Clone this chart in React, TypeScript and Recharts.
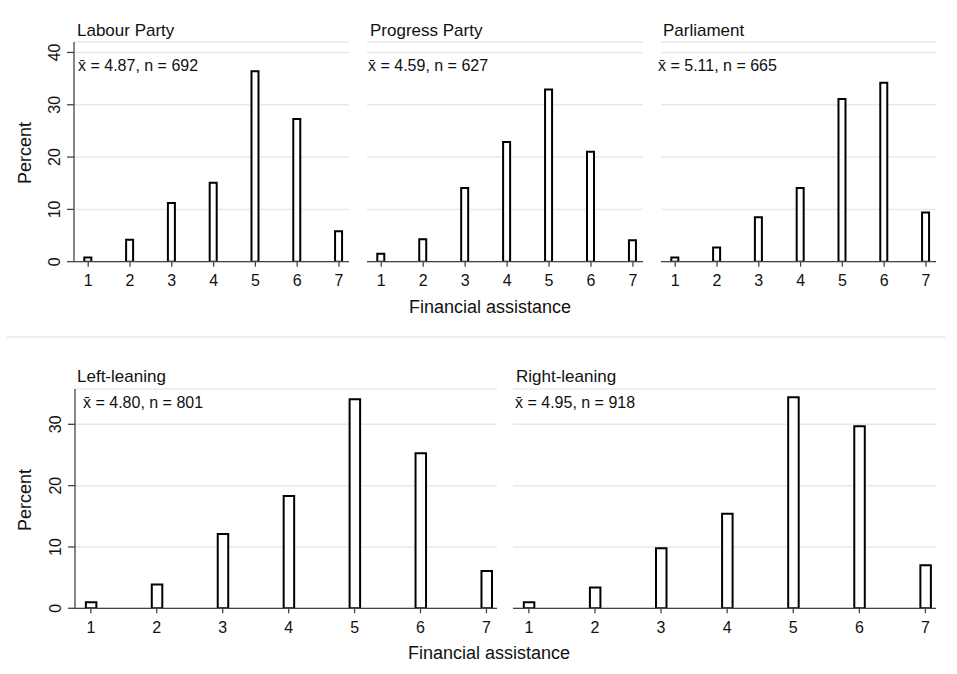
import React from 'react';
import { BarChart, Bar, XAxis, YAxis, CartesianGrid } from 'recharts';

const categories = [1, 2, 3, 4, 5, 6, 7];
const labourParty = [0.8, 4.2, 11.2, 15.1, 36.4, 27.3, 5.8];
const progressParty = [1.5, 4.3, 14.1, 22.9, 32.9, 21.0, 4.1];
const parliament = [0.8, 2.7, 8.5, 14.1, 31.1, 34.2, 9.4];
const leftLeaning = [1.0, 3.9, 12.1, 18.3, 34.1, 25.3, 6.1];
const rightLeaning = [1.0, 3.4, 9.8, 15.4, 34.4, 29.7, 7.0];

const panelTitles = ['Labour Party', 'Progress Party', 'Parliament', 'Left-leaning', 'Right-leaning'];
const panelMeans = ['4.87', '4.59', '5.11', '4.80', '4.95'];
const panelNs = [692, 627, 665, 801, 918];
const topYTicks = [0, 10, 20, 30, 40];
const bottomYTicks = [0, 10, 20, 30];
const xTitle = 'Financial assistance';
const yTitle = 'Percent';

const FONT = '"Liberation Sans", Arial, Helvetica, sans-serif';

type PanelProps = {
  values: number[];
  left: number;
  right: number;
  top: number;
  bottom: number;
  yMax: number;
  yTicks: number[];
  xDomain: [number, number];
  barSize: number;
  showY: boolean;
};

function RotTick(props: any) {
  const { x, y, payload } = props;
  const bx = x - 7;
  return (
    <text
      x={bx}
      y={y}
      transform={`rotate(-90 ${bx} ${y})`}
      textAnchor="middle"
      fontSize={16}
      fill="#111"
      fontFamily={FONT}
    >
      {payload.value}
    </text>
  );
}

function Panel({ values, left, right, top, bottom, yMax, yTicks, xDomain, barSize, showY }: PanelProps) {
  const padL = 80;
  const padR = 6;
  const padT = 6;
  const padB = 40;
  const width = right - left + padL + padR;
  const height = bottom - top + padT + padB;
  const data = categories.map((c, i) => ({ x: c, v: values[i] }));
  return (
    <div style={{ position: 'absolute', left: left - padL, top: top - padT, width, height }}>
      <BarChart
        width={width}
        height={height}
        data={data}
        margin={{ top: padT, right: padR, bottom: 0, left: showY ? 0 : padL }}
      >
        <CartesianGrid vertical={false} stroke="#e8e8e8" strokeWidth={1.5} />
        <XAxis
          type="number"
          dataKey="x"
          domain={xDomain}
          ticks={categories}
          allowDataOverflow
          height={padB}
          tickSize={5}
          tickMargin={8}
          stroke="#444"
          strokeWidth={1.3}
          tick={{ fill: '#111', fontSize: 16, fontFamily: FONT }}
          interval={0}
        />
        <YAxis
          type="number"
          domain={[0, yMax]}
          ticks={yTicks}
          allowDataOverflow
          hide={!showY}
          width={padL}
          tickSize={7}
          tickMargin={0}
          stroke="#444"
          strokeWidth={1.3}
          tick={<RotTick />}
          interval={0}
        />
        <Bar dataKey="v" barSize={barSize} fill="#fff" stroke="#000" strokeWidth={2} isAnimationActive={false} />
      </BarChart>
    </div>
  );
}

function Label({ text, x, cy, size }: { text: string; x: number; cy: number; size: number }) {
  return (
    <div
      style={{
        position: 'absolute',
        left: x,
        top: cy,
        transform: 'translateY(-50%)',
        fontSize: size,
        lineHeight: 1,
        whiteSpace: 'nowrap',
      }}
    >
      {text}
    </div>
  );
}

function CenterLabel({ text, cx, cy, size, rotate }: { text: string; cx: number; cy: number; size: number; rotate?: boolean }) {
  return (
    <div
      style={{
        position: 'absolute',
        left: cx,
        top: cy,
        transform: `translate(-50%, -50%)${rotate ? ' rotate(-90deg)' : ''}`,
        fontSize: size,
        lineHeight: 1,
        whiteSpace: 'nowrap',
      }}
    >
      {text}
    </div>
  );
}

const annot = (i: number) => `x\u0304 = ${panelMeans[i]}, n = ${panelNs[i]}`;

export default function App() {
  const topDomain: [number, number] = [0.66, 7.24];
  const botDomain: [number, number] = [0.76, 7.16];
  return (
    <div
      style={{
        position: 'absolute',
        left: 0,
        top: 0,
        width: 957,
        height: 674,
        background: '#fff',
        fontFamily: FONT,
        color: '#111',
        overflow: 'hidden',
      }}
    >
      <Panel values={labourParty} left={74} right={349} top={42} bottom={261.7} yMax={42} yTicks={topYTicks} xDomain={topDomain} barSize={7} showY />
      <Panel values={progressParty} left={367} right={643} top={42} bottom={261.7} yMax={42} yTicks={topYTicks} xDomain={topDomain} barSize={7} showY={false} />
      <Panel values={parliament} left={661} right={936} top={42} bottom={261.7} yMax={42} yTicks={topYTicks} xDomain={topDomain} barSize={7} showY={false} />
      <Panel values={leftLeaning} left={75} right={497} top={389} bottom={608.3} yMax={35.76} yTicks={bottomYTicks} xDomain={botDomain} barSize={10.5} showY />
      <Panel values={rightLeaning} left={513} right={936} top={389} bottom={608.3} yMax={35.76} yTicks={bottomYTicks} xDomain={botDomain} barSize={10.5} showY={false} />

      <div style={{ position: 'absolute', left: 7, top: 336, width: 938, height: 2, background: '#ececec' }} />

      <Label text={panelTitles[0]} x={77} cy={30} size={17} />
      <Label text={panelTitles[1]} x={370} cy={30} size={17} />
      <Label text={panelTitles[2]} x={663} cy={30} size={17} />
      <Label text={panelTitles[3]} x={77} cy={376} size={17} />
      <Label text={panelTitles[4]} x={516} cy={376} size={17} />

      <Label text={annot(0)} x={78} cy={66} size={16} />
      <Label text={annot(1)} x={368} cy={66} size={16} />
      <Label text={annot(2)} x={658} cy={66} size={16} />
      <Label text={annot(3)} x={83} cy={403} size={16} />
      <Label text={annot(4)} x={515} cy={403} size={16} />

      <CenterLabel text={yTitle} cx={25} cy={153} size={18} rotate />
      <CenterLabel text={yTitle} cx={25} cy={500} size={18} rotate />
      <CenterLabel text={xTitle} cx={490} cy={307} size={18} />
      <CenterLabel text={xTitle} cx={489} cy={653} size={18} />
    </div>
  );
}
